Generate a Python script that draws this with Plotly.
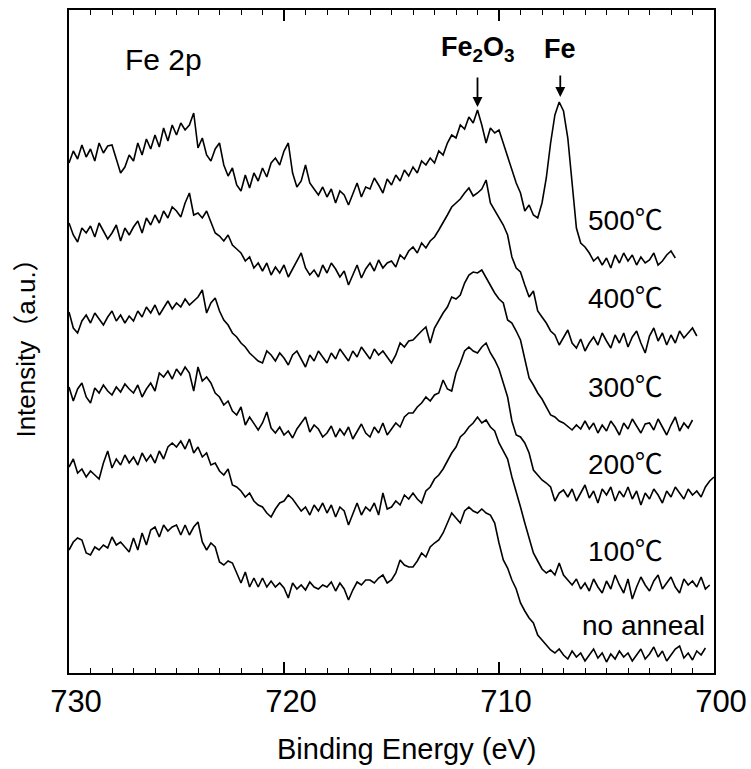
import numpy as np
import plotly.graph_objects as go

# Energy grid of the scans (eV): start value and step
E_START = 730.0
E_STEP = 0.2

# Stacked Fe 2p intensities (a.u.), one value per energy step
int_500 = [510, 522, 514, 528, 516, 524, 512, 530, 520, 527, 528, 515, 500, 506, 518,
           512, 530, 518, 534, 524, 538, 526, 545, 532, 548, 538, 550, 543, 548, 560,
           525, 535, 518, 512, 524, 530, 508, 497, 505, 488, 482, 498, 485, 500, 492,
           505, 496, 510, 515, 508, 522, 530, 500, 486, 492, 508, 490, 484, 478, 486,
           476, 484, 470, 482, 478, 468, 480, 490, 476, 486, 484, 495, 488, 480, 494,
           488, 498, 492, 503, 497, 506, 500, 512, 508, 515, 510, 522, 518, 530, 538,
           535, 548, 544, 556, 550, 563, 548, 530, 545, 540, 543, 530, 518, 505, 490,
           480, 462, 468, 458, 455, 470, 495, 530, 558, 571, 562, 535, 490, 445, 430,
           426, 420, 412, 416, 408, 415, 405, 418, 410, 420, 412, 418, 408, 416, 410,
           413, 420, 408, 412, 418, 422, 415]

int_400 = [450, 438, 431, 445, 440, 447, 436, 450, 442, 434, 440, 448, 432, 445, 438,
           446, 452, 440, 455, 448, 458, 450, 462, 455, 466, 462, 456, 470, 480, 458,
           460, 455, 462, 450, 440, 437, 432, 438, 428, 424, 420, 412, 416, 405, 410,
           402, 410, 398, 406, 400, 408, 396, 404, 412, 420, 405, 398, 403, 396, 408,
           400, 410, 404, 396, 402, 388, 398, 408, 395, 404, 410, 402, 413, 405, 410,
           412, 406, 418, 414, 422, 426, 420, 430, 425, 432, 436, 443, 450, 458, 466,
           470, 474, 480, 485, 477, 480, 484, 493, 470, 463, 456, 448, 438, 416, 405,
           401, 388, 376, 382, 362, 356, 350, 342, 338, 328, 335, 343, 330, 325, 334,
           322, 330, 336, 328, 340, 332, 325, 338, 330, 340, 326, 336, 342, 330, 320,
           337, 345, 332, 340, 328, 338, 330, 342, 335, 340, 345, 337]

int_300 = [361, 345, 340, 352, 358, 350, 360, 354, 348, 356, 362, 352, 358, 350, 357,
           352, 362, 356, 366, 360, 368, 358, 365, 372, 364, 370, 366, 374, 368, 372,
           376, 383, 360, 370, 375, 362, 353, 348, 340, 336, 330, 326, 320, 316, 312,
           310, 322, 318, 312, 320, 315, 308, 318, 322, 314, 306, 318, 312, 322, 316,
           310, 320, 314, 324, 318, 312, 322, 316, 326, 320, 314, 324, 318, 322, 316,
           310, 318, 330, 326, 332, 333, 338, 342, 346, 330, 345, 353, 360, 366, 376,
           374, 378, 390, 398, 401, 400, 403, 395, 388, 380, 374, 370, 353, 350, 342,
           333, 314, 295, 288, 280, 274, 266, 258, 256, 252, 250, 246, 243, 248, 244,
           252, 244, 250, 240, 248, 242, 252, 246, 238, 250, 244, 254, 247, 240, 249,
           250, 243, 254, 246, 238, 248, 256, 242, 250, 245, 253]

int_200 = [286, 272, 284, 290, 276, 270, 285, 280, 288, 282, 278, 286, 281, 289, 284,
           280, 288, 276, 284, 290, 282, 300, 296, 302, 294, 304, 298, 306, 300, 282,
           306, 292, 296, 290, 280, 276, 268, 272, 262, 258, 266, 248, 256, 250, 243,
           250, 261, 245, 240, 246, 238, 242, 235, 244, 250, 256, 241, 248, 244, 236,
           240, 247, 236, 244, 238, 246, 234, 242, 249, 240, 236, 246, 240, 250, 238,
           244, 250, 246, 256, 260, 260, 266, 270, 276, 272, 278, 280, 293, 284, 282,
           300, 310, 322, 326, 322, 320, 326, 330, 320, 313, 304, 290, 276, 252, 238,
           236, 230, 220, 203, 198, 193, 190, 186, 172, 180, 183, 176, 184, 172, 180,
           188, 175, 182, 170, 184, 178, 186, 172, 182, 176, 186, 174, 182, 168, 180,
           174, 184, 178, 170, 182, 176, 186, 180, 174, 184, 178, 182, 176, 186, 192,
           196]

int_100 = [206, 214, 200, 204, 196, 202, 198, 194, 210, 222, 205, 214, 208, 218, 210,
           216, 208, 220, 212, 218, 210, 222, 214, 226, 230, 226, 232, 224, 234, 220,
           226, 216, 220, 208, 210, 202, 198, 204, 188, 186, 182, 176, 180, 172, 168,
           166, 160, 156, 164, 170, 172, 178, 174, 168, 162, 166, 158, 168, 162, 170,
           160, 168, 156, 166, 162, 148, 160, 170, 158, 166, 162, 170, 158, 180, 164,
           166, 172, 168, 178, 174, 180, 174, 170, 182, 186, 194, 198, 204, 212, 220,
           226, 236, 240, 246, 250, 256, 250, 253, 246, 242, 230, 222, 214, 196, 182,
           166, 150, 136, 120, 112, 104, 100, 103, 98, 110, 98, 93, 88, 94, 84,
           90, 82, 94, 86, 80, 92, 84, 98, 88, 80, 94, 74, 86, 96, 88,
           82, 92, 98, 84, 90, 96, 86, 80, 94, 88, 92, 86, 96, 84, 88]

int_none = [123, 131, 135, 133, 120, 118, 126, 123, 128, 125, 136, 128, 131, 126, 121,
            135, 123, 140, 128, 143, 146, 136, 148, 142, 146, 148, 138, 148, 138, 146,
            151, 131, 123, 130, 126, 111, 108, 112, 110, 100, 90, 101, 86, 95, 86,
            95, 86, 92, 86, 90, 85, 75, 90, 84, 88, 83, 91, 86, 84, 88,
            86, 91, 82, 90, 84, 73, 83, 91, 88, 93, 93, 90, 95, 98, 90,
            93, 100, 113, 108, 106, 106, 112, 120, 116, 126, 130, 133, 140, 150, 160,
            155, 150, 162, 166, 162, 160, 164, 160, 158, 150, 130, 113, 105, 93, 84,
            70, 62, 55, 50, 38, 33, 28, 23, 20, 24, 18, 14, 22, 16, 20,
            12, 18, 24, 15, 20, 11, 19, 14, 22, 16, 20, 12, 18, 24, 14,
            19, 26, 16, 22, 12, 18, 24, 27, 15, 20, 13, 22, 18, 25]

series = [int_500, int_400, int_300, int_200, int_100, int_none]
labels = ["500℃", "400℃", "300℃", "200℃", "100℃", "no anneal"]

FONT = "Liberation Sans, Arial, Noto Sans CJK JP, sans-serif"

fig = go.Figure()
for vals in series:
    energy = E_START - E_STEP * np.arange(len(vals))
    fig.add_trace(go.Scatter(x=energy, y=vals, mode="lines",
                             line=dict(color="black", width=1.6),
                             showlegend=False, hoverinfo="skip"))

# temperature labels at the right end of each spectrum
label_pos = [(704.1, 453), (704.1, 375), (704.1, 286), (704.1, 209), (704.1, 122), (703.3, 48)]
for text, (lx, ly) in zip(labels, label_pos):
    fig.add_annotation(x=lx, y=ly, text=text, showarrow=False,
                       font=dict(family=FONT, size=28, color="black"),
                       xanchor="center", yanchor="middle")

fig.add_annotation(x=725.6, y=614, text="Fe 2p", showarrow=False,
                   font=dict(family=FONT, size=30, color="black"),
                   xanchor="center", yanchor="middle")

# peak markers: label above, arrow pointing down onto the peak
peak_marks = [("<b>Fe<sub>2</sub>O<sub>3</sub></b>", 711.0, 566, -58),
              ("<b>Fe</b>", 707.15, 576, -48)]
for text, px, tip_y, ay in peak_marks:
    fig.add_annotation(x=px, y=tip_y, text=text, showarrow=True,
                       ax=0, ay=ay, arrowhead=2, arrowsize=1.1,
                       arrowwidth=1.8, arrowcolor="black", startstandoff=10,
                       font=dict(family=FONT, size=27, color="black"))

# x-axis title, set slightly right of the plot centre
fig.add_annotation(x=0.524, y=-0.114, xref="paper", yref="paper",
                   text="Binding Energy (eV)", showarrow=False,
                   font=dict(family=FONT, size=29, color="black"),
                   xanchor="center", yanchor="middle")

fig.update_layout(
    width=751, height=769,
    margin=dict(l=69, r=37, t=10, b=96),
    paper_bgcolor="white", plot_bgcolor="white",
    font=dict(family=FONT, color="black"),
)
fig.update_xaxes(
    range=[730, 700], tickvals=[730, 720, 710, 700],
    ticks="inside", ticklen=11, tickwidth=1.5, tickcolor="black",
    minor=dict(ticks="inside", dtick=1, ticklen=5, tickwidth=1.2, tickcolor="black"),
    showline=True, linewidth=2, linecolor="black", mirror="ticks",
    showgrid=False, zeroline=False,
    tickfont=dict(family=FONT, size=31, color="black"),
    ticklabelshift=-7,
    automargin=False,
)
fig.update_yaxes(
    range=[0, 663], showticklabels=False, ticks="",
    showline=True, linewidth=2, linecolor="black", mirror=True,
    showgrid=False, zeroline=False,
    title=dict(text="Intensity（a.u.）", font=dict(family=FONT, size=26, color="black"), standoff=24),
    automargin=False,
)

fig.write_html("out.html")
